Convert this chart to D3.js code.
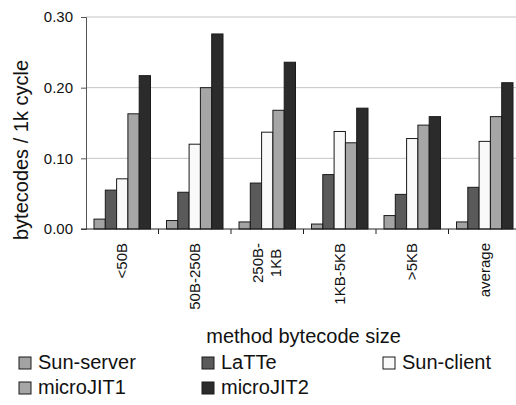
<!DOCTYPE html>
<html>
<head>
<meta charset="utf-8">
<script src="https://cdn.jsdelivr.net/npm/d3@7"></script>
<style>
  html, body { margin: 0; padding: 0; background: #fff; }
  svg { display: block; font-family: "Liberation Sans", Arial, sans-serif; }
</style>
</head>
<body>
<svg id="chart" width="516" height="405"></svg>
<script>
// Method size buckets (label lines) and the compilers compared
const categories = ["<50B", "50B-250B", "250B-1KB", "1KB-5KB", ">5KB", "average"];
const categoryLines = [["<50B"], ["50B-250B"], ["250B-", "1KB"], ["1KB-5KB"], [">5KB"], ["average"]];
const seriesNames = ["Sun-server", "LaTTe", "Sun-client", "microJIT1", "microJIT2"];
const seriesColors = ["#a3a3a3", "#5a5a5a", "#f9f9f9", "#a6a6a6", "#2b2b2b"];

// bytecodes compiled per 1k cycles, one array per compiler
const sunServer = [0.014, 0.012, 0.010, 0.007, 0.019, 0.010];
const latte     = [0.055, 0.052, 0.065, 0.077, 0.049, 0.059];
const sunClient = [0.071, 0.120, 0.137, 0.138, 0.128, 0.124];
const microJIT1 = [0.163, 0.200, 0.168, 0.122, 0.147, 0.159];
const microJIT2 = [0.217, 0.276, 0.236, 0.171, 0.159, 0.207];
const seriesValues = [sunServer, latte, sunClient, microJIT1, microJIT2];

const yTicks = [0, 0.10, 0.20, 0.30];

const svg = d3.select("#chart");
const plotLeft = 86, plotRight = 521, plotTop = 17, plotBottom = 229;

const x0 = d3.scaleBand().domain(categories).range([plotLeft, plotRight]);
const x1 = d3.scaleBand().domain(seriesNames).range([8, x0.bandwidth() - 8]);
const y = d3.scaleLinear().domain([0, 0.30]).range([plotBottom, plotTop]);

// horizontal gridlines
svg.append("g")
  .selectAll("line")
  .data(yTicks.filter(d => d > 0))
  .join("line")
  .attr("x1", plotLeft).attr("x2", 516)
  .attr("y1", d => y(d)).attr("y2", d => y(d))
  .attr("stroke", "#c4c4c4").attr("stroke-width", 1);

// bars
const groups = svg.append("g")
  .selectAll("g")
  .data(categories)
  .join("g")
  .attr("transform", d => `translate(${x0(d)},0)`);

groups.selectAll("rect")
  .data((c, ci) => seriesNames.map((s, si) => ({ s, si, v: seriesValues[si][ci] })))
  .join("rect")
  .attr("x", d => x1(d.s))
  .attr("width", x1.bandwidth())
  .attr("y", d => y(d.v))
  .attr("height", d => y(0) - y(d.v))
  .attr("fill", d => seriesColors[d.si])
  .attr("stroke", "#1a1a1a")
  .attr("stroke-width", 1);

// y axis
const yAxis = svg.append("g")
  .attr("transform", `translate(${plotLeft},0)`)
  .call(d3.axisLeft(y).tickValues(yTicks).tickFormat(d3.format(".2f")).tickSize(5).tickPadding(8));
yAxis.attr("font-family", "Liberation Sans, Arial, sans-serif");
yAxis.select(".domain").attr("stroke", "#555");
yAxis.selectAll(".tick line").attr("stroke", "#555");
yAxis.selectAll("text")
  .attr("font-size", 15)
  .attr("fill", "#111");

// x axis: line along zero with ticks at category boundaries
svg.append("line")
  .attr("x1", plotLeft - 5).attr("x2", 516)
  .attr("y1", plotBottom).attr("y2", plotBottom)
  .attr("stroke", "#222");
svg.append("g")
  .selectAll("line")
  .data(categories.slice(1))
  .join("line")
  .attr("x1", d => x0(d)).attr("x2", d => x0(d))
  .attr("y1", plotBottom).attr("y2", plotBottom + 5)
  .attr("stroke", "#222");

// rotated category labels, block anchored at the top, lines centered
const lineGap = 18;
categoryLines.forEach((lines, i) => {
  const cx = x0(categories[i]) + x0.bandwidth() / 2;
  const g = svg.append("g")
    .attr("transform", `translate(${cx},${plotBottom + 14}) rotate(-90)`);
  const n = lines.length;
  const t0 = g.append("text")
    .attr("x", 0)
    .attr("y", 5 - (n - 1) * lineGap / 2)
    .attr("text-anchor", "end")
    .attr("font-size", 15)
    .attr("fill", "#111")
    .text(lines[0]);
  const w0 = t0.node().getComputedTextLength();
  lines.slice(1).forEach((ln, k) => {
    g.append("text")
      .attr("x", -w0 / 2)
      .attr("y", 5 - (n - 1) * lineGap / 2 + (k + 1) * lineGap)
      .attr("text-anchor", "middle")
      .attr("font-size", 15)
      .attr("fill", "#111")
      .text(ln);
  });
});

// axis titles
svg.append("text")
  .attr("transform", "translate(28,150) rotate(-90)")
  .attr("text-anchor", "middle")
  .attr("font-size", 20)
  .attr("fill", "#111")
  .text("bytecodes / 1k cycle");

svg.append("text")
  .attr("x", (plotLeft + plotRight) / 2)
  .attr("y", 343)
  .attr("text-anchor", "middle")
  .attr("font-size", 20)
  .attr("fill", "#111")
  .text("method bytecode size");

// legend: three columns, two rows
const legendCols = [19, 202, 383];
const legendRows = [357, 382];
const legend = svg.append("g")
  .selectAll("g")
  .data(seriesNames)
  .join("g")
  .attr("transform", (d, i) => `translate(${legendCols[i % 3]},${legendRows[Math.floor(i / 3)]})`);
legend.append("rect")
  .attr("width", 12).attr("height", 12)
  .attr("fill", (d, i) => seriesColors[i])
  .attr("stroke", "#1a1a1a").attr("stroke-width", 1);
legend.append("text")
  .attr("x", 19)
  .attr("y", 12)
  .attr("font-size", 20)
  .attr("fill", "#111")
  .text(d => d);
</script>
</body>
</html>
